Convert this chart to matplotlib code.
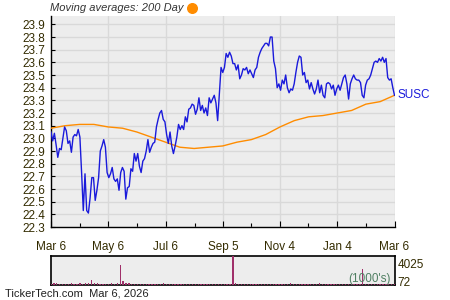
import numpy as np
import pandas as pd
import matplotlib
matplotlib.use("Agg")
from matplotlib import pyplot as plt

plt.rcParams['font.family'] = ['Liberation Sans', 'DejaVu Sans']

start, end = '2025-03-06', '2026-03-06'

# closing prices left to right
price = [
 23.05, 22.98, 23.04, 22.95, 22.85, 22.92, 22.91, 23.00, 23.09, 23.06,
 22.96, 22.98, 22.89, 23.01, 23.03, 23.02, 23.07, 23.01,
 22.73, 22.43, 22.72, 22.43, 22.41, 22.53, 22.69, 22.69, 22.51, 22.59,
 22.69, 22.90, 22.94, 22.99, 22.93, 22.73, 22.69, 22.72, 22.77, 22.68,
 22.66, 22.68, 22.59, 22.73, 22.77, 22.74, 22.52, 22.61, 22.62, 22.76,
 22.74, 22.88, 22.82, 22.88, 22.78, 22.73, 22.82, 22.84, 22.90, 22.99,
 22.89, 22.93, 22.96, 22.97,
 23.09, 23.15, 23.20, 23.22, 23.15, 23.13, 23.03, 22.96, 23.05, 22.94,
 22.88, 22.94, 23.01, 23.11, 23.07, 23.10, 23.07, 23.17, 23.13, 23.23,
 23.24, 23.27, 23.26, 23.19, 23.23, 23.32, 23.22, 23.26, 23.20, 23.24,
 23.18, 23.32, 23.28, 23.31, 23.34, 23.28, 23.14, 23.35, 23.56, 23.52,
 23.56, 23.67, 23.64, 23.68, 23.65, 23.59, 23.59, 23.54, 23.58, 23.47,
 23.50, 23.55, 23.54, 23.56, 23.51, 23.54, 23.51, 23.48, 23.54, 23.56,
 23.64, 23.68, 23.71, 23.73, 23.75, 23.75, 23.73, 23.80, 23.80, 23.61,
 23.55, 23.40,
 23.43, 23.38, 23.46, 23.43, 23.50, 23.40, 23.36, 23.39, 23.38, 23.43,
 23.52, 23.60, 23.65, 23.64, 23.50, 23.52, 23.44, 23.46, 23.39, 23.44,
 23.39, 23.35, 23.39, 23.46, 23.36, 23.42, 23.34, 23.32, 23.43, 23.44,
 23.43, 23.39, 23.42, 23.34, 23.39, 23.42, 23.38, 23.43, 23.48, 23.50,
 23.43, 23.31, 23.43, 23.47, 23.50, 23.47, 23.46, 23.46, 23.44, 23.34,
 23.32, 23.42, 23.46, 23.47, 23.50, 23.55, 23.60, 23.61, 23.60, 23.63,
 23.61, 23.64, 23.60, 23.63, 23.48, 23.46, 23.47, 23.40, 23.34,
]

# 200 day moving average
ma200 = [23.08, 23.10, 23.11, 23.11, 23.09, 23.08, 23.05, 23.01, 22.97, 22.93,
         22.92, 22.93, 22.94, 22.97, 22.99, 23.03, 23.09, 23.14, 23.17, 23.18,
         23.20, 23.22, 23.27, 23.29, 23.34]

# volume in thousands
volume = [
 150, 220, 260, 180, 120, 90, 140, 310, 200, 160,
 250, 180, 300, 260, 690, 240, 310, 210, 180, 150,
 120, 260, 190, 220, 2780, 600, 320, 250, 180, 140,
 90, 200, 160, 130, 110, 150, 120, 80, 170, 220,
 140, 100, 180, 130, 90, 160, 120, 140, 100, 130,
 110, 150, 90, 120, 80, 140, 170, 100, 130, 120,
 90, 110, 150, 4025, 300, 150, 120, 90, 110, 140,
 100, 130, 90, 160, 120, 110, 140, 100, 180, 150,
 120, 90, 200, 260, 140, 110, 130, 100, 90, 120,
 110, 150, 180, 280, 130, 120, 90, 140, 110, 100,
 130, 90, 120, 150, 110, 140, 160, 200, 2220, 180,
 150, 120, 100, 140, 110, 130, 90, 120, 150, 110,
]

tick_dates = ['2025-03-06', '2025-05-06', '2025-07-06', '2025-09-05',
              '2025-11-04', '2026-01-04', '2026-03-06']
tick_labels = ['Mar 6', 'May 6', 'Jul 6', 'Sep 5', 'Nov 4', 'Jan 4', 'Mar 6']

price_dates = pd.date_range(start, end, periods=len(price))
ma_dates = pd.date_range(start, end, periods=len(ma200))
vol_dates = pd.date_range(start, end, periods=len(volume))

txt = '#332b00'
bg = '#ededed'
grid = '#d9d9d9'
fs = 8

fig = plt.figure(figsize=(4.5, 3), dpi=100)
ax = fig.add_axes([0.1133, 0.2433, 0.7634, 0.7034])
ax.set_facecolor(bg)
ax.plot(ma_dates, ma200, color='#ff8c00', lw=1.0, zorder=3)
ax.plot(price_dates, price, color='#1a1adb', lw=1.0, zorder=4)

t0, t1 = pd.Timestamp(start), pd.Timestamp(end)
ax.set_xlim(t0, t1)
ax.set_ylim(22.3, 23.966)
yt = np.round(np.arange(22.3, 23.95, 0.1), 1)
ax.set_yticks(yt)
ax.set_yticklabels([f'{v:.1f}' for v in yt])
ticks = pd.to_datetime(tick_dates)
ax.set_xticks(ticks)
ax.set_xticklabels(tick_labels)
mids = [ticks[i] + (ticks[i + 1] - ticks[i]) / 2 for i in range(len(ticks) - 1)]
ax.set_xticks(mids, minor=True)
ax.grid(True, which='major', color=grid, lw=1.0, zorder=0)
ax.set_axisbelow(True)
for s in ['top', 'right']:
    ax.spines[s].set_visible(False)
for s in ['left', 'bottom']:
    ax.spines[s].set_linewidth(1.0)
ax.tick_params(axis='y', direction='in', length=3, width=0.8, labelsize=fs + 0.5,
               labelcolor=txt, pad=4)
ax.tick_params(axis='x', which='major', direction='in', length=4, width=0.8,
               labelsize=fs + 0.5, labelcolor=txt, pad=10)
ax.tick_params(axis='x', which='minor', direction='in', length=3, width=0.8)
ax.text(1.008, (23.34 - 22.3) / (23.966 - 22.3), 'SUSC', transform=ax.transAxes,
        color='#1a1adb', fontsize=fs + 0.5, va='center', ha='left')

# volume panel
vx = fig.add_axes([0.1133, 0.05, 0.7634, 0.0957])
vx.set_facecolor(bg)
vx.bar(vol_dates, volume, width=1.4, color='#a0306a', zorder=3)
vx.set_xlim(t0, t1)
vx.set_ylim(0, 4025)
vx.set_xticks([])
vx.set_yticks([4025 * 0.76, 4025 * 0.11])
vx.set_yticklabels(['4025', '72'])
vx.yaxis.tick_right()
vx.tick_params(axis='y', length=0, labelsize=fs + 0.5, labelcolor=txt, pad=2)
for s in vx.spines.values():
    s.set_linewidth(1.2)
vx.text(0.99, 0.2, "(1000's)", transform=vx.transAxes, ha='right', va='center',
        color='#4f7f62', fontsize=fs + 0.5, zorder=5)

fig.text(0.111, 0.973, 'Moving averages: 200 Day', fontsize=fs, style='italic',
         color='#333333', va='center', ha='left')
fig.text(0.011, 0.02, 'TickerTech.com  Mar 6, 2026', fontsize=fs, color='#222222',
         va='center', ha='left')
ax.scatter([0.426], [0.975], s=48, color='#ff8c00', transform=fig.transFigure,
           clip_on=False, zorder=10)

fig.savefig('out.png', dpi=100)
